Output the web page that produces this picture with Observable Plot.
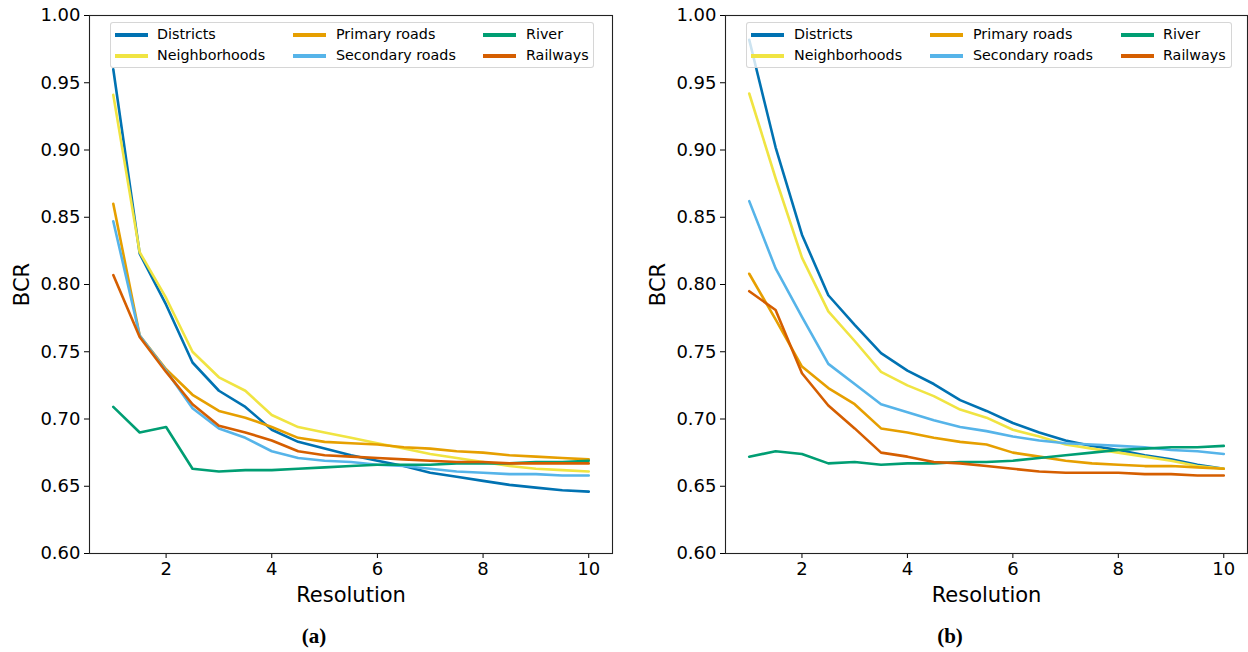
<!DOCTYPE html>
<html>
<head>
<meta charset="utf-8">
<script src="https://cdn.jsdelivr.net/npm/d3@7"></script>
<script src="https://cdn.jsdelivr.net/npm/@observablehq/plot@0.6"></script>
<style>
  html, body { margin: 0; padding: 0; background: #fff; }
  #wrap { position: relative; width: 1248px; height: 652px; font-family: "DejaVu Sans", sans-serif; overflow: hidden; }
  .panel { position: absolute; top: 0; }
  .legend { position: absolute; top: 22px; height: 46px; border: 1px solid rgba(204,204,204,0.8); border-radius: 3px; background: rgba(255,255,255,0.8); box-sizing: border-box; }
  .sw { position: absolute; width: 33px; height: 4px; }
  .lt { position: absolute; font-size: 14.3px; line-height: 15px; color: #000; white-space: nowrap; }
  .cap { position: absolute; top: 624px; font-family: "Liberation Serif", "Times New Roman", serif; font-weight: bold; font-size: 21px; transform: translateX(-50%); }
</style>
</head>
<body>
<div id="wrap"></div>
<script>
// ---- data ----
const resolution = [1, 1.5, 2, 2.5, 3, 3.5, 4, 4.5, 5, 5.5, 6, 6.5, 7, 7.5, 8, 8.5, 9, 9.5, 10];
const seriesNames = ["Districts", "Neighborhoods", "Primary roads", "Secondary roads", "River", "Railways"];
const seriesColors = ["#0072B2", "#F0E442", "#E69F00", "#56B4E9", "#009E73", "#D55E00"];
const yTicks = [0.60, 0.65, 0.70, 0.75, 0.80, 0.85, 0.90, 0.95, 1.00];
const xTicks = [2, 4, 6, 8, 10];
const panelCaptions = ["(a)", "(b)"];

// panel (a)
const aDistricts      = [0.960, 0.823, 0.785, 0.742, 0.721, 0.709, 0.692, 0.683, 0.678, 0.673, 0.669, 0.665, 0.660, 0.657, 0.654, 0.651, 0.649, 0.647, 0.646];
const aNeighborhoods  = [0.941, 0.824, 0.790, 0.750, 0.731, 0.721, 0.703, 0.694, 0.690, 0.686, 0.682, 0.678, 0.674, 0.671, 0.668, 0.665, 0.663, 0.662, 0.661];
const aPrimaryRoads   = [0.860, 0.762, 0.737, 0.718, 0.706, 0.701, 0.694, 0.686, 0.683, 0.682, 0.681, 0.679, 0.678, 0.676, 0.675, 0.673, 0.672, 0.671, 0.670];
const aSecondaryRoads = [0.847, 0.762, 0.736, 0.708, 0.693, 0.686, 0.676, 0.671, 0.669, 0.668, 0.666, 0.665, 0.663, 0.661, 0.660, 0.659, 0.659, 0.658, 0.658];
const aRiver          = [0.709, 0.690, 0.694, 0.663, 0.661, 0.662, 0.662, 0.663, 0.664, 0.665, 0.666, 0.666, 0.666, 0.667, 0.667, 0.667, 0.668, 0.668, 0.669];
const aRailways       = [0.807, 0.761, 0.735, 0.711, 0.695, 0.690, 0.684, 0.676, 0.673, 0.672, 0.671, 0.670, 0.669, 0.668, 0.668, 0.667, 0.667, 0.667, 0.667];

// panel (b)
const bDistricts      = [0.982, 0.902, 0.837, 0.792, 0.770, 0.749, 0.736, 0.726, 0.714, 0.706, 0.697, 0.690, 0.684, 0.680, 0.677, 0.673, 0.670, 0.666, 0.663];
const bNeighborhoods  = [0.942, 0.879, 0.820, 0.780, 0.758, 0.735, 0.725, 0.717, 0.707, 0.701, 0.692, 0.687, 0.681, 0.678, 0.675, 0.672, 0.669, 0.665, 0.663];
const bPrimaryRoads   = [0.808, 0.774, 0.739, 0.723, 0.711, 0.693, 0.690, 0.686, 0.683, 0.681, 0.675, 0.672, 0.669, 0.667, 0.666, 0.665, 0.665, 0.664, 0.663];
const bSecondaryRoads = [0.862, 0.812, 0.776, 0.741, 0.726, 0.711, 0.705, 0.699, 0.694, 0.691, 0.687, 0.684, 0.682, 0.681, 0.680, 0.679, 0.677, 0.676, 0.674];
const bRiver          = [0.672, 0.676, 0.674, 0.667, 0.668, 0.666, 0.667, 0.667, 0.668, 0.668, 0.669, 0.671, 0.673, 0.675, 0.677, 0.678, 0.679, 0.679, 0.680];
const bRailways       = [0.795, 0.781, 0.734, 0.710, 0.693, 0.675, 0.672, 0.668, 0.667, 0.665, 0.663, 0.661, 0.660, 0.660, 0.660, 0.659, 0.659, 0.658, 0.658];

const panelSeries = [
  [aDistricts, aNeighborhoods, aPrimaryRoads, aSecondaryRoads, aRiver, aRailways],
  [bDistricts, bNeighborhoods, bPrimaryRoads, bSecondaryRoads, bRiver, bRailways]
];

function tidy(seriesArrays) {
  const rows = [];
  seriesArrays.forEach((vals, si) => {
    vals.forEach((v, i) => rows.push({series: seriesNames[si], x: resolution[i], y: v}));
  });
  return rows;
}

const wrap = document.getElementById("wrap");
const layouts = [
  {left: 0, marginLeft: 89, marginRight: 12, legendLeft: 110, legendWidth: 484, cols: [[4, 46], [182, 225], [372, 415]], cap: 314},
  {left: 624, marginLeft: 101, marginRight: 1, legendLeft: 746, legendWidth: 486, cols: [[4, 47], [183, 226], [374, 416]], cap: 950}
];

layouts.forEach((L, pi) => {
  const data = tidy(panelSeries[pi]);
  const chart = Plot.plot({
    width: 624,
    height: 612,
    marginTop: 15,
    marginBottom: 59,
    marginLeft: L.marginLeft,
    marginRight: L.marginRight,
    style: {fontFamily: "DejaVu Sans, sans-serif", fontSize: "18px", color: "#000", background: "#fff", overflow: "visible"},
    x: {domain: [0.55, 10.45]},
    y: {domain: [0.60, 1.00]},
    color: {domain: seriesNames, range: seriesColors},
    marks: [
      Plot.lineY(data, {x: "x", y: "y", stroke: "series", strokeWidth: 2.6, strokeLinejoin: "round"}),
      Plot.axisX({ticks: xTicks, tickSize: 5, tickPadding: 4, label: "Resolution", labelAnchor: "center", labelOffset: 48, labelArrow: false, fontSize: 18}),
      Plot.axisY({ticks: yTicks, tickSize: 5, tickPadding: 4, tickFormat: d3.format(".2f"), label: "BCR", labelAnchor: "center", labelOffset: 75, labelArrow: false, fontSize: 18}),
      Plot.frame({stroke: "#222", strokeWidth: 1.1})
    ]
  });
  chart.classList.add("panel");
  chart.style.left = L.left + "px";
  d3.select(chart).selectAll('g[aria-label="x-axis label"] text, g[aria-label="y-axis label"] text').attr("font-size", "21px");
  wrap.appendChild(chart);

  // legend
  const lg = document.createElement("div");
  lg.className = "legend";
  lg.style.left = L.legendLeft + "px";
  lg.style.width = L.legendWidth + "px";
  seriesNames.forEach((name, si) => {
    const col = Math.floor(si / 2), row = si % 2;
    const sw = document.createElement("div");
    sw.className = "sw";
    sw.style.background = seriesColors[si];
    sw.style.left = L.cols[col][0] + "px";
    sw.style.top = (10 + row * 21) + "px";
    const t = document.createElement("div");
    t.className = "lt";
    t.textContent = name;
    t.style.left = L.cols[col][1] + "px";
    t.style.top = (4 + row * 21) + "px";
    lg.appendChild(sw);
    lg.appendChild(t);
  });
  wrap.appendChild(lg);

  const cap = document.createElement("div");
  cap.className = "cap";
  cap.textContent = panelCaptions[pi];
  cap.style.left = L.cap + "px";
  wrap.appendChild(cap);
});
</script>
</body>
</html>
